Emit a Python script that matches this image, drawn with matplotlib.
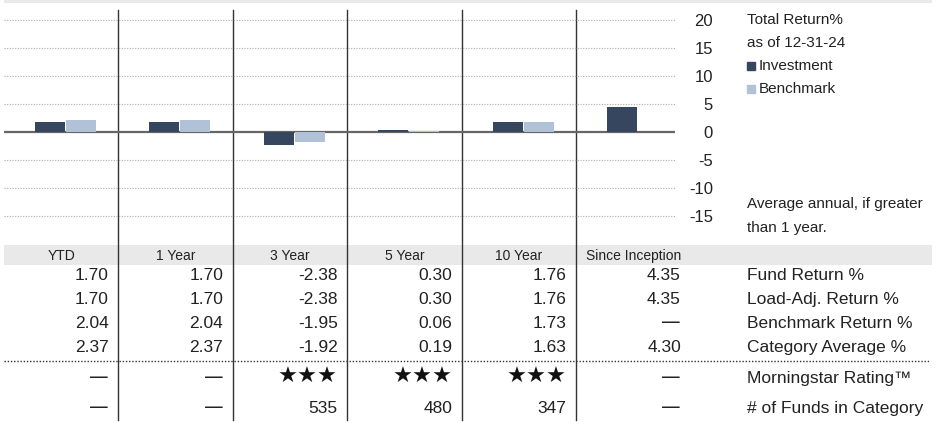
import matplotlib.pyplot as plt

plt.rcParams['font.family'] = ['Liberation Sans', 'DejaVu Sans']

periods = ["YTD", "1 Year", "3 Year", "5 Year", "10 Year", "Since Inception"]
fund_return = [1.70, 1.70, -2.38, 0.30, 1.76, 4.35]
load_adj_return = [1.70, 1.70, -2.38, 0.30, 1.76, 4.35]
bench_return = [2.04, 2.04, -1.95, 0.06, 1.73, None]
category_avg = [2.37, 2.37, -1.92, 0.19, 1.63, 4.30]
rating = [None, None, 3, 3, 3, None]
funds_in_category = [None, None, 535, 480, 347, None]
row_labels = ["Fund Return %", "Load-Adj. Return %", "Benchmark Return %",
              "Category Average %", "Morningstar Rating\u2122", "# of Funds in Category"]
yticks = [-15, -10, -5, 0, 5, 10, 15, 20]

inv_color = '#36465f'
bench_color = '#b1c2d8'
band_color = '#e9e9e9'
text_color = '#222222'

W, H = 939, 424
fig = plt.figure(figsize=(W / 100, H / 100), dpi=100)

# background axes in pixel coordinates for the table and dividers
bg = fig.add_axes([0, 0, 1, 1])
bg.set_xlim(0, W)
bg.set_ylim(H, 0)
bg.axis('off')

col_left = 4
col_w = 114.4
n = len(periods)

# chart axes: pixel box x 4..675, y 10..238
x0, x1, y0, y1 = 4, 675, 10, 238
ax = fig.add_axes([x0 / W, (H - y1) / H, (x1 - x0) / W, (y1 - y0) / H])
ax.set_xlim(-0.5, -0.5 + (x1 - x0) / col_w)
zero_px = 131.5
ppu = 5.6
ax.set_ylim(-(y1 - zero_px) / ppu, (zero_px - y0) / ppu)
ax.patch.set_alpha(0)
for s in ax.spines.values():
    s.set_visible(False)
ax.set_xticks([])

for t in yticks:
    if t == 0:
        ax.axhline(0, color='#666666', lw=1.6, zorder=1)
    else:
        ax.axhline(t, color='#aaaaaa', lw=0.8, ls=(0, (1, 1.4)), zorder=0)

bw = 30 / col_w
for i in range(n):
    ax.bar(i - 0.098, fund_return[i], width=bw, color=inv_color, zorder=2)
    if bench_return[i] is not None:
        ax.bar(i - 0.098 + bw + 0.008, bench_return[i], width=bw, color=bench_color, zorder=2)

ax.yaxis.tick_right()
ax.set_yticks(yticks)
ax.set_yticklabels([str(t) for t in yticks])
ax.tick_params(axis='y', length=0, pad=(713 - x1) * 0.72, labelsize=12, labelcolor=text_color)
for lab in ax.get_yticklabels():
    lab.set_horizontalalignment('right')

# top band
bg.fill_between([4, 932], 0, 3, color=band_color, lw=0)

# column dividers
for i in range(1, n):
    xd = col_left + i * col_w
    bg.plot([xd, xd], [10, 420], color='#333333', lw=1.0, zorder=3)

# legend block
txt = dict(fontsize=11, color=text_color, va='center', ha='left')
bg.text(747, 20, "Total Return%", **txt)
bg.text(747, 43, "as of 12-31-24", **txt)
bg.add_patch(plt.Rectangle((747, 61.5), 8, 8, color=inv_color))
bg.text(759, 66, "Investment", **txt)
bg.add_patch(plt.Rectangle((747, 84.5), 8, 8, color=bench_color))
bg.text(759, 89, "Benchmark", **txt)
bg.text(747, 204, "Average annual, if greater", **txt)
bg.text(747, 228, "than 1 year.", **txt)

# table header
bg.fill_between([4, 932], 245, 265, color=band_color, lw=0, zorder=1)
for i, p in enumerate(periods):
    bg.text(col_left + (i + 0.5) * col_w, 256, p, fontsize=10, color=text_color,
            ha='center', va='center', zorder=4)

dash = '\u2014'
rows = [fund_return, load_adj_return, bench_return, category_avg, rating, funds_in_category]
row_y = [275.5, 299.5, 323.5, 347.5, 378, 408.5]
for r, (vals, yy) in enumerate(zip(rows, row_y)):
    for i, v in enumerate(vals):
        xr = col_left + (i + 1) * col_w - 9.5
        if v is None:
            bg.text(xr, yy - 1, dash, fontsize=14, family='DejaVu Sans', color=text_color,
                    ha='right', va='center')
        elif r == 4:
            bg.text(xr, yy - 1, '\u2605' * v, fontsize=16, family='DejaVu Sans', color='#111111',
                    ha='right', va='center')
        else:
            s = f"{v:.2f}" if r < 4 else str(v)
            bg.text(xr, yy, s, fontsize=12.5, color=text_color, ha='right', va='center')
    bg.text(747, yy, row_labels[r], fontsize=12.5, color=text_color, ha='left', va='center')

bg.plot([4, 930], [360.5, 360.5], color='#333333', lw=1.0, ls=(0, (1, 1.3)))

fig.savefig("out.png", dpi=100)
